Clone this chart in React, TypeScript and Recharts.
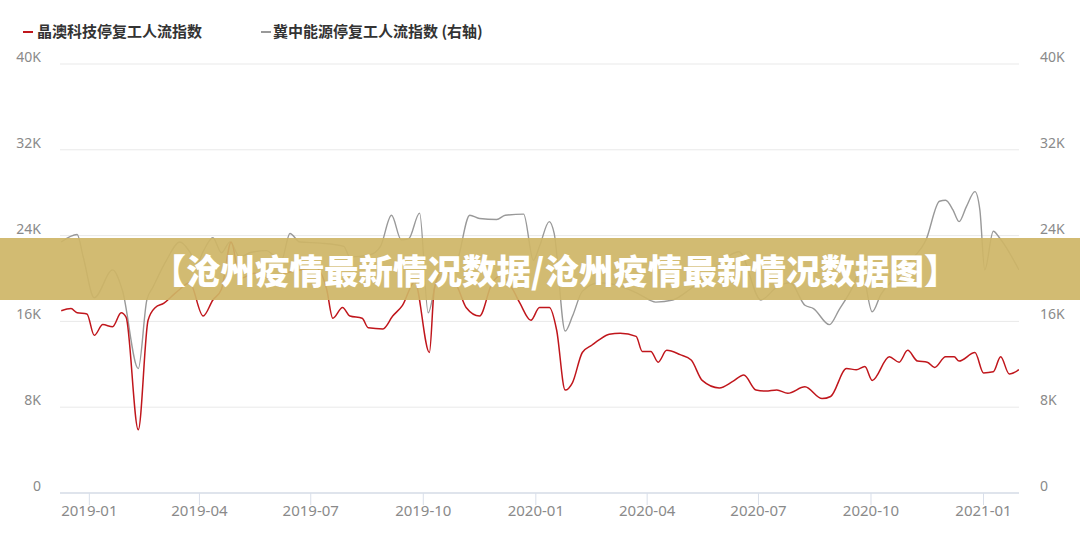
import React from 'react';
import { LineChart, Line, XAxis, YAxis, CartesianGrid } from 'recharts';

// 晶澳科技 (left axis)
const redDates = [
  '2018-12-09', '2018-12-17', '2018-12-22', '2018-12-30', '2019-01-05', '2019-01-12', '2019-01-20',
  '2019-01-27', '2019-01-31', '2019-02-10', '2019-02-18', '2019-02-24', '2019-03-03', '2019-03-09',
  '2019-03-16', '2019-03-24', '2019-04-04', '2019-04-12', '2019-04-19', '2019-04-27', '2019-05-04',
  '2019-05-16', '2019-05-29', '2019-06-10', '2019-06-22', '2019-07-05', '2019-07-14', '2019-07-19',
  '2019-07-27', '2019-08-02', '2019-08-12', '2019-08-17', '2019-08-29', '2019-09-06', '2019-09-14',
  '2019-09-24', '2019-10-06', '2019-10-10', '2019-10-17', '2019-10-29', '2019-11-05', '2019-11-16',
  '2019-11-26', '2019-12-04', '2019-12-13', '2019-12-19', '2019-12-28', '2020-01-04', '2020-01-12',
  '2020-01-18', '2020-01-25', '2020-01-31', '2020-02-08', '2020-02-16', '2020-02-22', '2020-03-01',
  '2020-03-10', '2020-03-23', '2020-03-28', '2020-04-04', '2020-04-10', '2020-04-17', '2020-04-28',
  '2020-05-07', '2020-05-16', '2020-05-30', '2020-06-10', '2020-06-19', '2020-06-29', '2020-07-07',
  '2020-07-16', '2020-07-25', '2020-08-08', '2020-08-22', '2020-08-29', '2020-09-11', '2020-09-19',
  '2020-09-26', '2020-10-02', '2020-10-16', '2020-10-24', '2020-10-31', '2020-11-08', '2020-11-16',
  '2020-11-22', '2020-12-01', '2020-12-08', '2020-12-12', '2020-12-25', '2021-01-01', '2021-01-09',
  '2021-01-15', '2021-01-22', '2021-01-30',
];
const redValues = [
  17000, 17200, 16800, 16700, 14700, 15700, 15500,
  16800, 16400, 5900, 16100, 17300, 17700, 18300,
  19000, 19600, 16500, 18000, 19000, 23400, 20000,
  20500, 20000, 20500, 20800, 21000, 19000, 16300,
  17300, 16500, 16300, 15400, 15300, 16500, 17500,
  19700, 13100, 19000, 20800, 19200, 17300, 16500,
  19500, 20300, 19000, 17700, 16100, 17300, 17300,
  15200, 9600, 10300, 13100, 13800, 14300, 14800,
  14900, 14600, 13200, 13200, 12200, 13300, 12900,
  12400, 10500, 9800, 10400, 11000, 9600, 9500,
  9600, 9300, 9900, 8800, 9000, 11600, 11500,
  11800, 10500, 12700, 12200, 13300, 12300, 12200,
  11700, 12700, 12700, 12300, 13100, 11200, 11300,
  12700, 11100, 11500,
];

// 冀中能源 (right axis)
const grayDates = [
  '2018-12-09', '2018-12-22', '2018-12-27', '2019-01-05', '2019-01-20', '2019-01-28', '2019-02-10',
  '2019-02-17', '2019-02-22', '2019-03-05', '2019-03-16', '2019-03-24', '2019-03-30', '2019-04-04',
  '2019-04-12', '2019-04-19', '2019-04-26', '2019-05-04', '2019-05-12', '2019-05-26', '2019-05-31',
  '2019-06-07', '2019-06-14', '2019-06-22', '2019-07-09', '2019-07-28', '2019-08-02', '2019-08-18',
  '2019-08-27', '2019-09-05', '2019-09-13', '2019-09-19', '2019-09-28', '2019-10-05', '2019-10-12',
  '2019-10-28', '2019-11-08', '2019-11-16', '2019-11-30', '2019-12-07', '2019-12-22', '2019-12-30',
  '2020-01-04', '2020-01-12', '2020-01-16', '2020-01-25', '2020-01-31', '2020-02-08', '2020-02-22',
  '2020-03-10', '2020-03-26', '2020-04-08', '2020-04-22', '2020-05-06', '2020-05-22', '2020-06-03',
  '2020-06-15', '2020-07-03', '2020-07-16', '2020-07-27', '2020-08-08', '2020-08-15', '2020-08-28',
  '2020-09-05', '2020-09-16', '2020-09-23', '2020-10-02', '2020-10-09', '2020-10-20', '2020-11-01',
  '2020-11-15', '2020-11-26', '2020-12-01', '2020-12-07', '2020-12-12', '2020-12-18', '2020-12-25',
  '2020-12-29', '2021-01-02', '2021-01-09', '2021-01-14', '2021-01-30',
];
const grayValues = [
  23400, 24100, 22000, 18200, 20800, 18900, 11600,
  18000, 19200, 21700, 23400, 22500, 21400, 22500,
  23800, 22400, 23400, 22000, 22400, 22600, 22200,
  21700, 24200, 23400, 23300, 23000, 22000, 22200,
  23000, 25900, 23600, 23700, 26100, 16800, 19900,
  21400, 25900, 25600, 25500, 25900, 26000, 21700,
  23000, 25300, 24200, 15100, 16500, 18800, 19600,
  19300, 18500, 17800, 18000, 19000, 20500, 21800,
  22500, 18000, 19200, 19600, 17500, 17200, 15700,
  17100, 19200, 21000, 16900, 18500, 20000, 21500,
  23600, 27200, 27300, 26400, 25300, 26700, 28100,
  26400, 20800, 24400, 23800, 20800,
];

const monthTicks = ['2019-01-01', '2019-04-01', '2019-07-01', '2019-10-01', '2020-01-01', '2020-04-01', '2020-07-01', '2020-10-01', '2021-01-01'];
const yTicks = [0, 8000, 16000, 24000, 32000, 40000];
const xRange = ['2018-12-08', '2021-01-30'];

const seriesNames = ['晶澳科技停复工人流指数', '冀中能源停复工人流指数 (右轴)'];
const bannerText = '【沧州疫情最新情况数据/沧州疫情最新情况数据图】';

const COLORS = {
  red: '#c0161c',
  gray: '#999999',
  grid: '#e9e9e9',
  axis: '#d9dfea',
  label: '#8a8a8a',
};

const FONT = '"Noto Sans", "Noto Sans CJK SC", sans-serif';
const CJK = '"Noto Sans CJK SC", sans-serif';

const toTime = (s: string) => Date.parse(s);
const redData = redDates.map((d, i) => ({ t: toTime(d), v: redValues[i] }));
const grayData = grayDates.map((d, i) => ({ t: toTime(d), v: grayValues[i] }));

const fmtK = (v: number) => (v === 0 ? '0' : `${v / 1000}K`);
const fmtMonth = (t: number) => new Date(t).toISOString().slice(0, 7);

const LeftTick = (props: any) => (
  <text x={41} y={props.y - 2} textAnchor="end" fill={COLORS.label} fontSize={14} fontFamily={FONT}>
    {fmtK(props.payload.value)}
  </text>
);

const RightTick = (props: any) => (
  <text x={1040} y={props.y - 2} textAnchor="start" fill={COLORS.label} fontSize={14} fontFamily={FONT}>
    {fmtK(props.payload.value)}
  </text>
);

const BottomTick = (props: any) => (
  <text x={props.x} y={516} textAnchor="middle" fill={COLORS.label} fontSize={15} fontFamily={FONT}>
    {fmtMonth(props.payload.value)}
  </text>
);

export default function App() {
  return (
    <div style={{ position: 'absolute', left: 0, top: 0, width: 1080, height: 540, background: '#fff' }}>
      {/* legend */}
      <div style={{ position: 'absolute', left: 0, top: 21, height: 20, fontFamily: CJK, fontSize: 15, fontWeight: 700, color: '#333' }}>
        <span style={{ position: 'absolute', left: 23, top: 10, width: 10, height: 2, background: COLORS.red }} />
        <span style={{ position: 'absolute', left: 37, top: 0, whiteSpace: 'nowrap', lineHeight: '20px' }}>{seriesNames[0]}</span>
        <span style={{ position: 'absolute', left: 261, top: 10, width: 10, height: 2, background: COLORS.gray }} />
        <span style={{ position: 'absolute', left: 273, top: 0, whiteSpace: 'nowrap', lineHeight: '20px' }}>{seriesNames[1]}</span>
      </div>

      <LineChart width={1080} height={540} margin={{ top: 64, right: 0, bottom: 0, left: 0 }}>
        <CartesianGrid horizontal vertical={false} stroke={COLORS.grid} yAxisId="left" />
        <XAxis
          dataKey="t"
          type="number"
          scale="time"
          domain={[toTime(xRange[0]), toTime(xRange[1])]}
          ticks={monthTicks.map(toTime)}
          height={47}
          tickSize={12}
          tickLine={{ stroke: COLORS.axis }}
          axisLine={{ stroke: COLORS.axis, strokeWidth: 1.5 }}
          tick={<BottomTick />}
          allowDataOverflow
        />
        <YAxis
          yAxisId="left"
          orientation="left"
          width={60}
          domain={[0, 40000]}
          ticks={yTicks}
          axisLine={false}
          tickLine={false}
          tick={<LeftTick />}
        />
        <YAxis
          yAxisId="right"
          orientation="right"
          width={61}
          domain={[0, 40000]}
          ticks={yTicks}
          axisLine={false}
          tickLine={false}
          tick={<RightTick />}
        />
        <Line
          yAxisId="right"
          data={grayData}
          dataKey="v"
          type="monotone"
          stroke={COLORS.gray}
          strokeWidth={1.4}
          dot={false}
          isAnimationActive={false}
        />
        <Line
          yAxisId="left"
          data={redData}
          dataKey="v"
          type="monotone"
          stroke={COLORS.red}
          strokeWidth={1.5}
          dot={false}
          isAnimationActive={false}
        />
      </LineChart>

      {/* title banner over the chart */}
      <div
        style={{
          position: 'absolute',
          left: 0,
          top: 238,
          width: 1080,
          height: 62,
          background: 'rgba(206, 181, 102, 0.92)',
          display: 'flex',
          alignItems: 'center',
          justifyContent: 'center',
          paddingLeft: 30,
          boxSizing: 'border-box',
        }}
      >
        <span style={{ color: '#fff', fontFamily: CJK, fontWeight: 900, fontSize: 34.5, whiteSpace: 'nowrap', lineHeight: '62px' }}>
          {bannerText}
        </span>
      </div>
    </div>
  );
}
